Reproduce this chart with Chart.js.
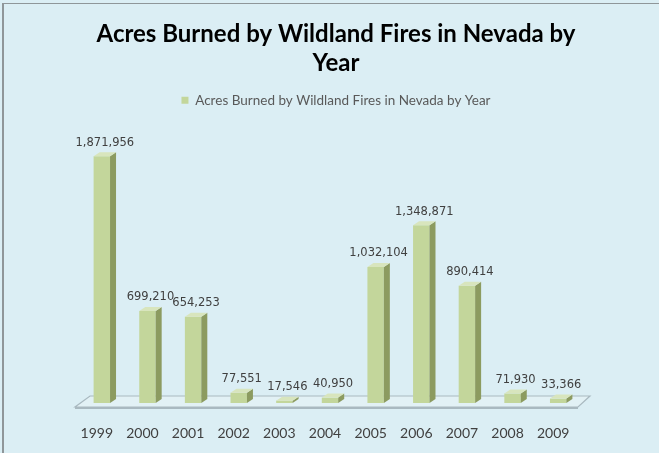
<!DOCTYPE html>
<html>
<head>
<meta charset="utf-8">
<script src="https://cdn.jsdelivr.net/npm/chart.js@4"></script>
<style>
  html, body { margin: 0; padding: 0; background: #dbeef4; }
  #wrap { position: absolute; left: 0; top: 0; width: 659px; height: 453px; }
</style>
</head>
<body>
<div id="wrap"><canvas id="c" width="659" height="453"></canvas></div>
<script>
const years = ['1999','2000','2001','2002','2003','2004','2005','2006','2007','2008','2009'];
const acresBurned = [1871956, 699210, 654253, 77551, 17546, 40950, 1032104, 1348871, 890414, 71930, 33366];
const seriesName = 'Acres Burned by Wildland Fires in Nevada by Year';
const titleLines = ['Acres Burned by Wildland Fires in Nevada by', 'Year'];
const axisMax = 2170000;

const FRONT = '#c3d69b';
const SIDE = '#8c9b60';
const TOP = '#d8e5bd';
const DX = 6, DY = 4;

const bgPlugin = {
  id: 'bg',
  beforeDraw(chart) {
    const ctx = chart.ctx;
    ctx.save();
    ctx.fillStyle = '#dbeef4';
    ctx.fillRect(0, 0, chart.width, chart.height);
    ctx.fillStyle = '#8f9699';
    ctx.fillRect(2, 3, 2, chart.height - 3);
    ctx.fillRect(2, 3, chart.width - 2, 1);
    ctx.restore();
  }
};

const floorPlugin = {
  id: 'floor',
  beforeDatasetsDraw(chart) {
    const ctx = chart.ctx;
    const xs = chart.scales.x, ys = chart.scales.y;
    const B = ys.getPixelForValue(0);
    const L = xs.left, R = xs.right;
    ctx.save();
    ctx.beginPath();
    ctx.moveTo(L - 4, B + 4);
    ctx.lineTo(R - 3, B + 4);
    ctx.lineTo(R + 9, B - 7);
    ctx.lineTo(L + 11, B - 7);
    ctx.closePath();
    ctx.fillStyle = '#e2f1f5';
    ctx.fill();
    ctx.strokeStyle = '#a9b9c0';
    ctx.lineWidth = 1.2;
    ctx.stroke();
    ctx.fillStyle = '#a9b9c0';
    ctx.fillRect(L - 4, B + 4, R - L + 1, 2);
    ctx.restore();
  }
};

const bar3dPlugin = {
  id: 'bar3d',
  afterDatasetsDraw(chart) {
    const ctx = chart.ctx;
    const meta = chart.getDatasetMeta(0);
    ctx.save();
    meta.data.forEach((bar, i) => {
      const p = bar.getProps(['x', 'y', 'base', 'width'], true);
      const l = p.x - p.width / 2, r = p.x + p.width / 2;
      ctx.beginPath();
      ctx.moveTo(r, p.y);
      ctx.lineTo(r + DX, p.y - DY);
      ctx.lineTo(r + DX, p.base - DY);
      ctx.lineTo(r, p.base);
      ctx.closePath();
      ctx.fillStyle = SIDE;
      ctx.fill();
      ctx.beginPath();
      ctx.moveTo(l, p.y);
      ctx.lineTo(l + DX, p.y - DY);
      ctx.lineTo(r + DX, p.y - DY);
      ctx.lineTo(r, p.y);
      ctx.closePath();
      ctx.fillStyle = TOP;
      ctx.fill();
      ctx.fillStyle = '#404040';
      ctx.font = '11.5px "DejaVu Sans"';
      ctx.textAlign = 'center';
      ctx.textBaseline = 'bottom';
      ctx.fillText(acresBurned[i].toLocaleString('en-US'), p.x + DX / 2, p.y - DY - 4);
    });
    ctx.restore();
  }
};

new Chart(document.getElementById('c'), {
  type: 'bar',
  data: {
    labels: years,
    datasets: [{
      label: seriesName,
      data: acresBurned,
      backgroundColor: FRONT,
      borderWidth: 0,
      barPercentage: 0.36,
      categoryPercentage: 1.0
    }]
  },
  options: {
    responsive: false,
    animation: false,
    devicePixelRatio: 1,
    layout: { padding: { left: 79, right: 66, top: 20, bottom: 0 } },
    plugins: {
      title: {
        display: true,
        text: titleLines,
        color: '#000000',
        font: { family: 'Lato', size: 24, weight: 'bold', lineHeight: 1.2 },
        padding: { top: 0, bottom: 6 }
      },
      legend: {
        display: true,
        position: 'top',
        labels: {
          color: '#595959',
          font: { family: 'Lato', size: 13.5 },
          boxWidth: 7,
          boxHeight: 7,
          padding: 10
        }
      },
      tooltip: { enabled: false }
    },
    scales: {
      x: {
        grid: { display: false, drawTicks: false },
        border: { display: false },
        ticks: { color: '#404040', font: { family: 'Lato', size: 14 }, padding: 22, labelOffset: -5 },
        afterFit(axis) { axis.height = 50; }
      },
      y: {
        position: 'right',
        min: 0,
        max: axisMax,
        grid: { display: false, drawTicks: false },
        border: { display: false },
        ticks: { display: false },
        afterFit(axis) { axis.width = 12; }
      }
    }
  },
  plugins: [bgPlugin, floorPlugin, bar3dPlugin]
});
</script>
</body>
</html>
